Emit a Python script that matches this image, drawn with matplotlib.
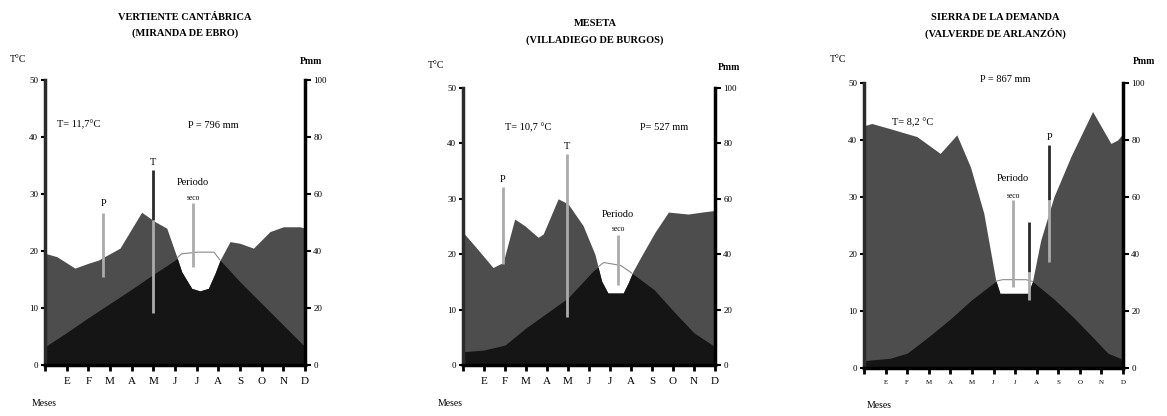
import numpy as np
import matplotlib
matplotlib.use('Agg')
import matplotlib.pyplot as plt

plt.rcParams['font.family'] = ['Liberation Serif', 'DejaVu Serif']

W, H = 1167, 416

# DATA
months = ['', 'E', 'F', 'M', 'A', 'M', 'J', 'J', 'A', 'S', 'O', 'N', 'D']
t_ticks = [0, 10, 20, 30, 40, 50]
p_ticks = [0, 20, 40, 60, 80, 100]

# Panel 1
title1 = 'VERTIENTE CANTÁBRICA'
sub1 = '(MIRANDA DE EBRO)'
p1_x = [0, 0.55, 1.38, 2.0, 2.46, 3.46, 4.46, 5.08, 5.62, 6.08, 6.31, 6.77,
        7.15, 7.54, 7.85, 8.08, 8.54, 9.0, 9.62, 10.38, 11.0, 11.77, 12]
p1_mm = [39.2, 38, 34, 35.7, 36.8, 41, 53.6, 50.3, 48, 38, 32.7, 26.9,
         26, 26.9, 32.2, 36.8, 43.3, 42.7, 41, 46.8, 48.5, 48.5, 48]
t1_x = [0, 1, 2, 3, 4, 5, 6.0, 6.3, 7.0, 7.8, 8.08, 9, 10, 11, 12]
t1_c = [3.2, 5.7, 8.3, 10.8, 13.3, 15.9, 18.4, 19.5, 19.8, 19.8, 18.4, 14.6, 10.8, 7.0, 3.2]

# Panel 2
title2 = 'MESETA'
sub2 = '(VILLADIEGO DE BURGOS)'
p2_x = [0, 0.56, 1.43, 1.91, 2.46, 2.94, 3.58, 3.82, 4.53, 5.0, 5.72, 6.28,
        6.6, 6.9, 7.63, 7.87, 8.1, 8.5, 9.14, 9.78, 10.73, 11.37, 12]
p2_mm = [47.9, 43, 35.2, 37, 52.7, 50.3, 46.1, 47.3, 60, 58.2, 50.3, 40,
         30.3, 26, 26, 29.7, 33.9, 39.4, 47.9, 55.2, 54.5, 55.2, 55.8]
t2_x = [0, 1, 2, 3, 4, 5, 6.2, 6.7, 7.5, 8.0, 9.1, 10.1, 11, 12]
t2_c = [2.4, 2.7, 3.6, 6.7, 9.4, 12.1, 17.0, 18.5, 18.0, 16.7, 13.6, 9.4, 5.8, 3.3]

# Panel 3
title3 = 'SIERRA DE LA DEMANDA'
sub3 = '(VALVERDE DE ARLANZÓN)'
p3_x = [0, 0.36, 1.2, 2.45, 3.53, 4.3, 4.93, 5.55, 6.1, 6.3, 7.6, 7.8,
        8.19, 8.8, 9.58, 10.59, 11.44, 11.75, 12]
p3_mm = [85, 85.8, 84, 81.2, 75.3, 81.8, 70.6, 54.3, 30.9, 26.2, 26.2, 30.2,
         44.9, 60.1, 74.1, 90, 78.8, 80, 82.3]
t3_x = [0, 1.2, 2, 3, 4, 5, 6.1, 6.4, 7.5, 7.8, 8.8, 9.7, 10.6, 11.3, 12]
t3_c = [1.3, 1.7, 2.6, 5.5, 8.6, 12.0, 15.2, 15.5, 15.5, 15.2, 12.1, 8.9, 5.4, 2.6, 1.5]

GRAY = '#4d4d4d'
BLACK = '#151515'
LIGHT = '#ababab'

fig = plt.figure(figsize=(W / 100, H / 100), dpi=100)


def px_axes(left, top, right, bottom):
    return fig.add_axes([left / W, 1 - bottom / H, (right - left) / W, (bottom - top) / H])


def ftext(x, y, s, **kw):
    fig.text(x / W, 1 - y / H, s, **kw)


def panel(box, p_x, p_mm, t_x, t_c, small_months=False):
    ax = px_axes(*box)
    tw = ax.twinx()
    ax.set_xlim(0, 12)
    ax.set_ylim(0, 50)
    tw.set_ylim(0, 100)

    xs = np.linspace(0, 12, 1201)
    pt = np.interp(xs, p_x, np.array(p_mm) / 2.0)
    tt = np.interp(xs, t_x, t_c)
    ax.fill_between(xs, 0, pt, color=GRAY, lw=0)
    ax.fill_between(xs, 0, np.minimum(tt, pt), color=BLACK, lw=0)
    # dry period outline (T above P/2)
    dry = np.where(tt > pt, tt, np.nan)
    ax.plot(xs, dry, color='#8a8a8a', lw=0.8)

    for s in ['top', 'right']:
        ax.spines[s].set_visible(False)
    for s in ['top', 'left', 'bottom']:
        tw.spines[s].set_visible(False)
    ax.spines['left'].set_linewidth(2.5)
    ax.spines['left'].set_color('#2b2b2b')
    ax.spines['bottom'].set_linewidth(2.5)
    ax.spines['bottom'].set_color('black')
    tw.spines['right'].set_linewidth(2.5)
    tw.spines['right'].set_color('black')

    ax.set_yticks(t_ticks)
    tw.set_yticks(p_ticks)
    ax.set_xticks(range(13))
    ax.set_xticklabels(months)
    ax.tick_params(axis='y', direction='out', length=3, width=1.5, pad=2, labelsize=6.5)
    tw.tick_params(axis='y', direction='out', length=4, width=1.5, pad=2, labelsize=6.5)
    ax.tick_params(axis='x', direction='out', length=4, width=2, pad=5,
                   labelsize=5 if small_months else 8)
    return ax


def marker(ax, x, top, mid, bot, label=None, ly=None):
    if abs(mid - top) < 1e-9:
        ax.plot([x, x], [top, bot], color=LIGHT, lw=2, solid_capstyle='butt')
    else:
        ax.plot([x, x], [top, mid], color='#2a2a2a', lw=2, solid_capstyle='butt')
        ax.plot([x, x], [mid, bot], color=LIGHT, lw=2, solid_capstyle='butt')
    if label:
        ax.text(x, ly, label, ha='center', va='center', fontsize=7.5)


def seco(ax, x, y1, y2, top, bot):
    ax.text(x, y1, 'Periodo', ha='center', va='center', fontsize=7.5)
    ax.text(x, y2, 'seco', ha='center', va='center', fontsize=5.5)
    ax.plot([x, x], [top, bot], color=LIGHT, lw=2, solid_capstyle='butt')


# PANEL 1
ax1 = panel((45, 80, 305, 365), p1_x, p1_mm, t1_x, t1_c)
ax1.text(0.55, 42.1, 'T= 11,7°C', ha='left', va='center', fontsize=7.5)
ax1.text(6.6, 42.1, 'P = 796 mm', ha='left', va='center', fontsize=7.5)
marker(ax1, 2.68, 26.7, 26.7, 15.4, 'P', 28.4)
marker(ax1, 5.0, 34.2, 25.5, 9.1, 'T', 35.6)
seco(ax1, 6.83, 32.1, 29.3, 28.4, 17.2)
ftext(10, 60, 'T°C', fontsize=7, va='center')
ftext(300, 62, 'Pmm', fontsize=7, va='center', weight='bold')
ftext(32, 403, 'Meses', fontsize=7, va='center')
ftext(185, 17, title1, fontsize=7.5, ha='center', va='center', weight='bold')
ftext(185, 33, sub1, fontsize=7.5, ha='center', va='center', weight='bold')

# PANEL 2
ax2 = panel((463, 88, 715, 365), p2_x, p2_mm, t2_x, t2_c)
ax2.text(2.0, 42.8, 'T= 10,7 °C', ha='left', va='center', fontsize=7.5)
ax2.text(8.43, 42.8, 'P= 527 mm', ha='left', va='center', fontsize=7.5)
marker(ax2, 1.9, 32.2, 32.2, 18.2, 'P', 33.4)
marker(ax2, 4.95, 38.0, 38.0, 8.7, 'T', 39.4)
seco(ax2, 7.38, 27.1, 24.5, 23.5, 14.5)
ftext(428, 66, 'T°C', fontsize=7, va='center')
ftext(718, 68, 'Pmm', fontsize=7, va='center', weight='bold')
ftext(438, 403, 'Meses', fontsize=7, va='center')
ftext(595, 24, title2, fontsize=7.5, ha='center', va='center', weight='bold')
ftext(595, 40, sub2, fontsize=7.5, ha='center', va='center', weight='bold')

# PANEL 3
ax3 = panel((864, 83, 1123, 368), p3_x, p3_mm, t3_x, t3_c, small_months=True)
ax3.text(6.53, 50.7, 'P = 867 mm', ha='center', va='center', fontsize=7.5, clip_on=False)
ax3.text(1.3, 43.0, 'T= 8,2 °C', ha='left', va='center', fontsize=7.5)
marker(ax3, 8.58, 39.1, 29.5, 18.6, 'P', 40.4)
marker(ax3, 7.66, 25.6, 16.8, 11.9)
seco(ax3, 6.9, 33.2, 30.2, 29.5, 14.2)
ftext(830, 59, 'T°C', fontsize=7, va='center')
ftext(1133, 62, 'Pmm', fontsize=7, va='center', weight='bold')
ftext(867, 406, 'Meses', fontsize=7, va='center')
ftext(995, 17, title3, fontsize=7.5, ha='center', va='center', weight='bold')
ftext(995, 33, sub3, fontsize=7.5, ha='center', va='center', weight='bold')

fig.savefig('out.png', dpi=100)
